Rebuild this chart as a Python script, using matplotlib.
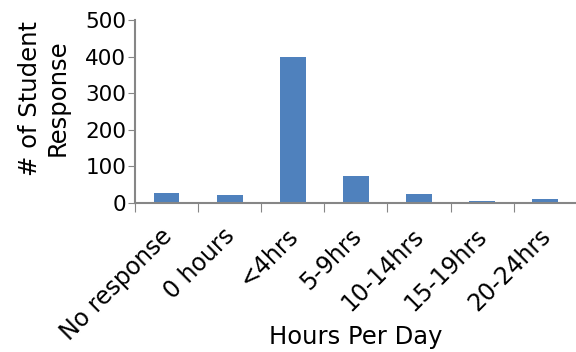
import matplotlib.pyplot as plt
import matplotlib.transforms as mtransforms

categories = ['No response', '0 hours', '<4hrs', '5-9hrs', '10-14hrs', '15-19hrs', '20-24hrs']
responses = [27, 23, 400, 74, 25, 5, 10]

plt.rcParams['font.family'] = 'DejaVu Sans'
fig = plt.figure(figsize=(5.76, 3.52), dpi=100)
ax = fig.add_axes([0.235, 0.423, 0.766, 0.52])

x = range(len(categories))
ax.bar(x, responses, width=0.4, color='#4f81bd')

ax.set_xlim(-0.5, len(categories) - 0.5)
ax.set_ylim(0, 500)
ax.set_yticks([0, 100, 200, 300, 400, 500])
ax.set_xticks([i - 0.5 for i in range(len(categories) + 1)])
ax.set_xticklabels([])
ax.set_xticks(list(x), minor=True)
ax.set_xticklabels(categories, minor=True, rotation=45, ha='right', rotation_mode='anchor')
ax.tick_params(axis='x', which='minor', length=0, labelsize=17, pad=15)
ax.tick_params(axis='x', which='major', length=6.5, color='#868686', direction='out')
ax.tick_params(axis='y', length=5, color='#868686', labelsize=15.5, pad=1.5)

# nudge the slanted labels sideways like the original
shift = mtransforms.ScaledTranslation(-7 / 100, 0, fig.dpi_scale_trans)
for lbl in ax.get_xticklabels(minor=True):
    lbl.set_transform(lbl.get_transform() + shift)

for side in ['top', 'right']:
    ax.spines[side].set_visible(False)
for side in ['left', 'bottom']:
    ax.spines[side].set_color('#868686')
    ax.spines[side].set_linewidth(1.5)

ax.set_xlabel('Hours Per Day', fontsize=17.5)
ax.set_ylabel('# of Student\nResponse', fontsize=17.5, linespacing=1.15)
ax.xaxis.set_label_coords(0.5, -0.665)
ax.yaxis.set_label_coords(-0.15, 0.574)

fig.savefig('out.png', dpi=100)
